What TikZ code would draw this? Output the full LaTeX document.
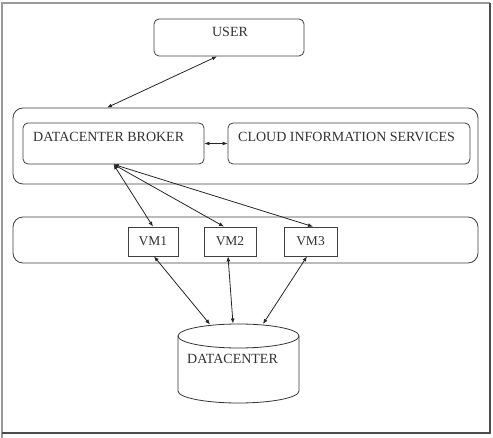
\documentclass[tikz,border=0pt]{standalone}
\usepackage{fontspec}
\setmainfont{Liberation Serif}
\usetikzlibrary{arrows.meta}
\begin{document}
\begin{tikzpicture}[x=1pt,y=-1pt,
  box/.style={draw=black!75, line width=0.8pt, rounded corners=5pt, inner sep=0pt},
  bigbox/.style={draw=black!75, line width=0.8pt, rounded corners=10pt, inner sep=0pt},
  vmbox/.style={draw=black!75, line width=0.8pt, inner sep=0pt, minimum width=50pt, minimum height=29pt, font=\fontsize{13.5}{15}\selectfont, text=black!80},
  lbl/.style={inner sep=0pt, font=\fontsize{14}{16}\selectfont, text=black!80},
  link/.style={draw=black!85, line width=0.8pt, {Latex[length=5pt,width=4pt]}-{Latex[length=5pt,width=4pt]}}
]
\useasboundingbox (0,0) rectangle (493,438);
\fill[white] (0,0) rectangle (493,438);
% image frame
\draw[black!40, line width=2pt] (1.5,438) -- (1.5,3.5) -- (490,3.5);
\draw[black!70, line width=2pt] (490,3.5) -- (490,433) -- (1.5,433);

% user
\node[box, minimum width=150pt, minimum height=37pt] (user) at (229,37.5) {};
\node[lbl, anchor=base] (usert) at (230,37) {USER};

% broker layer
\node[bigbox, minimum width=465pt, minimum height=76pt] (layer1) at (245.5,146) {};
\node[box, minimum width=181pt, minimum height=41pt] (broker) at (113.5,143.5) {};
\node[lbl, anchor=base west] (brokert) at (33,142) {DATACENTER BROKER};
\node[box, minimum width=242pt, minimum height=41pt] (cis) at (349,143.5) {};
\node[lbl, anchor=base west] (cist) at (238,142) {CLOUD INFORMATION SERVICES};

% VM layer
\node[bigbox, minimum width=465pt, minimum height=46pt] (layer2) at (245.5,240) {};
\node[vmbox, minimum width=50pt] (vm1) at (153,241.5) {VM1};
\node[vmbox, minimum width=52pt] (vm2) at (230,241.5) {VM2};
\node[vmbox, minimum width=53pt] (vm3) at (310.5,241.5) {VM3};

% datacenter cylinder
\draw[draw=black!80, line width=0.8pt, fill=white]
  (178,336) -- (178,391) arc[start angle=180, end angle=360, x radius=60.5pt, y radius=12pt] -- (299,336);
\draw[draw=black!80, line width=0.8pt] (238.5,336) ellipse[x radius=60.5pt, y radius=12pt];
\node[lbl, anchor=base west] (dct) at (187,364) {DATACENTER};
\coordinate (dc1) at (210,324.5);
\coordinate (dc2) at (233,323.5);
\coordinate (dc3) at (263,324);

% connectors
\draw[link] ([xshift=-12pt]user.south) -- ([xshift=-138.5pt]layer1.north);
\draw[link] (broker.east) -- (cis.west);
\draw[link] (broker.south) -- (vm1.north);
\draw[link] (broker.south) -- ([xshift=-6pt]vm2.north);
\draw[link] (broker.south) -- ([xshift=2.5pt]vm3.north);
\draw[link] ([xshift=1pt]vm1.south) -- (dc1);
\draw[link] ([xshift=-2pt]vm2.south) -- (dc2);
\draw[link] ([xshift=-3.5pt]vm3.south) -- (dc3);
\end{tikzpicture}
\end{document}
